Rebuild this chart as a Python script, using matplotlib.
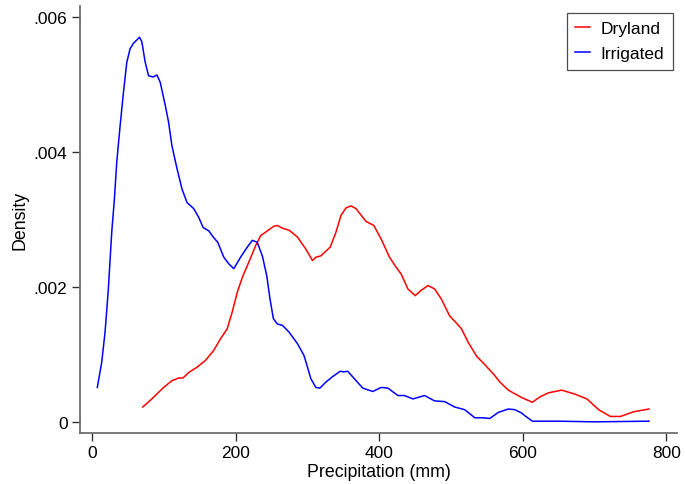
import matplotlib
matplotlib.use("Agg")
import matplotlib.pyplot as plt

# --- Data (kernel density of precipitation) ---
irrigated_x = [7.4, 13.5, 18.2, 22.8, 27.5, 31.2, 34.5, 39.2, 43.8, 48.5, 53.1, 57.8,
               66.2, 69.5, 74.1, 78.8, 84.9, 90.5, 95.1, 102.1, 106.7, 111.4, 118.5,
               125.4, 132.4, 141.7, 148.7, 154.8, 162.7, 168.8, 175.3, 183.6, 190.7,
               197.6, 207.0, 216.4, 223.4, 230.3, 237.3, 243.4, 248.0, 252.7, 258.3,
               265.3, 274.5, 286.2, 295.5, 304.9, 311.9, 317.5, 325.9, 335.2, 345.9,
               350.6, 356.2, 365.5, 377.2, 391.2, 402.8, 412.2, 426.2, 435.4, 447.1,
               463.4, 477.3, 491.3, 505.3, 519.3, 533.3, 545.0, 554.3, 566.0, 580.0,
               589.2, 598.6, 603.2, 613.5, 650.0, 700.0, 776.0]
irrigated_y = [0.00051, 0.00088, 0.00133, 0.00197, 0.00281, 0.00330, 0.00385, 0.00439,
               0.00488, 0.00533, 0.00553, 0.00561, 0.00570, 0.00563, 0.00533, 0.00513,
               0.00511, 0.00514, 0.00503, 0.00469, 0.00444, 0.00409, 0.00375, 0.00345,
               0.00325, 0.00316, 0.00303, 0.00288, 0.00283, 0.00274, 0.00266, 0.00244,
               0.00234, 0.00227, 0.00244, 0.00259, 0.00269, 0.00266, 0.00246, 0.00217,
               0.00182, 0.00153, 0.00145, 0.00143, 0.00133, 0.00116, 0.00098, 0.00064,
               0.00051, 0.00050, 0.00059, 0.00067, 0.00075, 0.00074, 0.00075, 0.00064,
               0.00050, 0.00045, 0.00051, 0.00050, 0.00039, 0.00039, 0.00034, 0.00039,
               0.00031, 0.00030, 0.00022, 0.00018, 0.00006, 0.00006, 0.00005, 0.00014,
               0.00019, 0.00018, 0.00013, 0.00009, 0.00001, 0.00001, 0.00000, 0.00001]

dryland_x = [70.8, 83.4, 99.8, 111.4, 120.8, 126.8, 134.7, 146.4, 158.0, 169.7, 179.0,
             188.4, 195.4, 202.4, 209.4, 218.6, 228.0, 235.0, 244.3, 253.6, 258.3,
             265.3, 274.5, 286.2, 297.9, 307.2, 311.9, 318.9, 331.9, 339.9, 346.9,
             353.8, 360.8, 367.8, 381.8, 392.6, 402.8, 414.5, 423.8, 430.8, 440.1,
             450.3, 458.7, 468.1, 477.3, 486.7, 498.3, 508.0, 514.7, 524.0, 536.0,
             548.0, 560.0, 568.3, 580.0, 598.6, 613.5, 624.2, 635.9, 654.5, 673.1,
             689.5, 705.9, 722.2, 736.2, 754.8, 776.0]
dryland_y = [0.00022, 0.00034, 0.00051, 0.00061, 0.00065, 0.00065, 0.00073, 0.00081,
             0.00091, 0.00106, 0.00123, 0.00138, 0.00163, 0.00192, 0.00214, 0.00237,
             0.00261, 0.00276, 0.00283, 0.00290, 0.00291, 0.00287, 0.00284, 0.00274,
             0.00256, 0.00239, 0.00244, 0.00246, 0.00259, 0.00281, 0.00306, 0.00317,
             0.00320, 0.00316, 0.00297, 0.00291, 0.00271, 0.00244, 0.00229, 0.00219,
             0.00197, 0.00187, 0.00195, 0.00202, 0.00197, 0.00182, 0.00157, 0.00146,
             0.00138, 0.00118, 0.00097, 0.00084, 0.00070, 0.00059, 0.00047, 0.00036,
             0.00029, 0.00037, 0.00043, 0.00047, 0.00041, 0.00034, 0.00018, 0.00008,
             0.00008, 0.00015, 0.00019]

x_ticks = [0, 200, 400, 600, 800]
y_ticks = [0, 0.002, 0.004, 0.006]
y_tick_labels = ["0", ".002", ".004", ".006"]

plt.rcParams['font.family'] = ['Liberation Sans', 'DejaVu Sans']

fig = plt.figure(figsize=(6.85, 4.85), dpi=100)
# plot region placed so the axis lines sit where Stata draws them
ax = fig.add_axes([0.1168, 0.1052, 0.8715, 0.880])

ax.plot(dryland_x, dryland_y, color='#ff0000', linewidth=1.1, label='Dryland')
ax.plot(irrigated_x, irrigated_y, color='#0000ff', linewidth=1.1, label='Irrigated')

ax.set_xlim(-16.7, 815)
ax.set_ylim(-0.000165, 0.00616)
ax.set_xticks(x_ticks)
ax.set_yticks(y_ticks)
ax.set_yticklabels(y_tick_labels)

for side in ('top', 'right'):
    ax.spines[side].set_visible(False)
for side in ('left', 'bottom'):
    ax.spines[side].set_color('#6e6e6e')
    ax.spines[side].set_linewidth(1.3)
ax.tick_params(direction='out', length=6, width=1.0, color='#333333',
               labelsize=12.5, pad=3)

ax.set_xlabel("Precipitation (mm)", fontsize=12.8, labelpad=2)
ax.set_ylabel("Density", fontsize=12.8, labelpad=4)

leg = ax.legend(loc='upper right', bbox_to_anchor=(0.999, 0.993), fontsize=12.5,
                frameon=True, fancybox=False, handlelength=0.85, handletextpad=0.6,
                borderpad=0.5, labelspacing=0.55, borderaxespad=0.2)
leg.get_frame().set_edgecolor('#222222')
leg.get_frame().set_linewidth(0.9)

fig.savefig("out.png", dpi=100, facecolor='white')
